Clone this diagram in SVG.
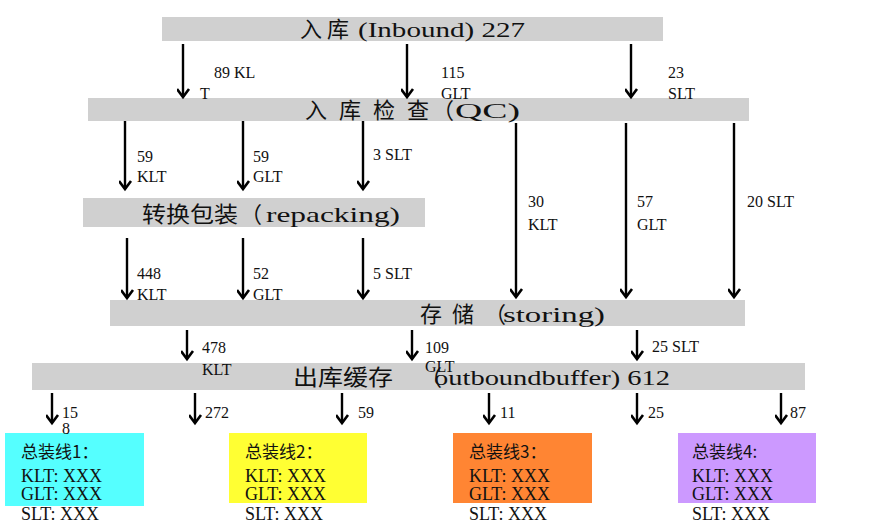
<svg xmlns="http://www.w3.org/2000/svg" width="869" height="530" viewBox="0 0 869 530">
<defs>
<marker id="ah" markerUnits="userSpaceOnUse" markerWidth="20" markerHeight="20" refX="0" refY="0" viewBox="-10 -14 20 20" orient="auto-start-reverse">
<path d="M-6,-8 L0,0 L6,-8" transform="rotate(-90)" fill="none" stroke="#000" stroke-width="2.6" stroke-linejoin="miter"/>
</marker>
<style>
.bar{fill:#d0d0d0}
.t{font-family:"Liberation Serif","Noto Sans CJK SC",serif;fill:#111}
.cjk{font-family:"Noto Sans CJK SC","Liberation Serif",sans-serif;fill:#111}
.big{font-size:22px}
.lab{font-family:"Liberation Serif",serif;font-size:16px;fill:#111}
.box{font-family:"Liberation Serif","Noto Sans CJK SC",serif;font-size:18px;fill:#111}
.boxc{font-family:"Noto Sans CJK SC",sans-serif;font-size:17px;fill:#111}
.c line{stroke:#000;stroke-width:2.4;marker-end:url(#ah)}
</style>
</defs>
<rect width="869" height="530" fill="#fff"/>

<g id="inbound">
<rect class="bar" x="162" y="17" width="501" height="24"/>
<text class="cjk big" x="300" y="37">入 库</text>
<text class="t big" x="358" y="37" textLength="167" lengthAdjust="spacingAndGlyphs">(Inbound) 227</text>
</g>

<g id="qc">
<rect class="bar" x="88" y="98" width="661" height="23"/>
<text class="cjk big" x="305" y="118" letter-spacing="12">入库检查</text>
<text class="cjk big" x="432" y="118">（</text>
<text class="t big" x="455" y="118" textLength="65" lengthAdjust="spacingAndGlyphs">QC)</text>
</g>

<g id="repacking">
<rect class="bar" x="83" y="198" width="342" height="29"/>
<text class="cjk big" x="142" y="222" textLength="96" lengthAdjust="spacingAndGlyphs">转换包装</text>
<text class="cjk big" x="240" y="222">（</text>
<text class="t big" x="266" y="222" textLength="134" lengthAdjust="spacingAndGlyphs">repacking)</text>
</g>

<g id="storing">
<rect class="bar" x="110" y="300" width="635" height="26"/>
<text class="cjk big" x="420" y="322" letter-spacing="10">存储</text>
<text class="cjk big" x="484" y="322">（</text>
<text class="t big" x="503" y="322" textLength="102" lengthAdjust="spacingAndGlyphs">storing)</text>
</g>

<g id="outbound">
<rect class="bar" x="32" y="363" width="773" height="27"/>
<text class="cjk big" x="293" y="385" textLength="100" lengthAdjust="spacingAndGlyphs">出库缓存</text>
<text class="cjk big" x="420" y="385">（</text>
<text class="t big" x="434" y="385" textLength="236" lengthAdjust="spacingAndGlyphs">outboundbuffer) 612</text>
</g>

<g id="line1">
<rect x="5" y="433" width="139" height="73" fill="#55ffff"/>
<text class="boxc" x="21" y="458">总装线1：</text>
<text class="box" x="21" y="482">KLT: XXX</text>
<text class="box" x="21" y="500">GLT: XXX</text>
<text class="box" x="21" y="520">SLT:  XXX</text>
</g>
<g id="line2">
<rect x="229" y="433" width="138" height="70" fill="#ffff33"/>
<text class="boxc" x="245" y="458">总装线2：</text>
<text class="box" x="245" y="482">KLT: XXX</text>
<text class="box" x="245" y="500">GLT: XXX</text>
<text class="box" x="245" y="520">SLT:  XXX</text>
</g>
<g id="line3">
<rect x="453" y="433" width="139" height="70" fill="#ff8533"/>
<text class="boxc" x="469" y="458">总装线3：</text>
<text class="box" x="469" y="482">KLT: XXX</text>
<text class="box" x="469" y="500">GLT: XXX</text>
<text class="box" x="469" y="520">SLT:  XXX</text>
</g>
<g id="line4">
<rect x="678" y="433" width="138" height="70" fill="#cc99ff"/>
<text class="boxc" x="692" y="458">总装线4:</text>
<text class="box" x="692" y="482">KLT: XXX</text>
<text class="box" x="692" y="500">GLT: XXX</text>
<text class="box" x="692" y="520">SLT:  XXX</text>
</g>

<g id="connectors" class="c">
<line x1="183" y1="44" x2="183" y2="97"/>
<line x1="407" y1="44" x2="407" y2="97"/>
<line x1="631" y1="44" x2="631" y2="97"/>
<line x1="125" y1="121" x2="125" y2="189"/>
<line x1="243" y1="121" x2="243" y2="189"/>
<line x1="363" y1="121" x2="363" y2="189"/>
<line x1="516" y1="123" x2="516" y2="297"/>
<line x1="626" y1="123" x2="626" y2="297"/>
<line x1="734" y1="123" x2="734" y2="297"/>
<line x1="127" y1="238" x2="127" y2="298"/>
<line x1="243" y1="238" x2="243" y2="298"/>
<line x1="363" y1="238" x2="363" y2="298"/>
<line x1="187" y1="330" x2="187" y2="359"/>
<line x1="412" y1="330" x2="412" y2="359"/>
<line x1="637" y1="330" x2="637" y2="359"/>
<line x1="52" y1="393" x2="52" y2="423"/>
<line x1="195" y1="393" x2="195" y2="423"/>
<line x1="342" y1="393" x2="342" y2="423"/>
<line x1="489" y1="393" x2="489" y2="423"/>
<line x1="637" y1="393" x2="637" y2="423"/>
<line x1="781" y1="393" x2="781" y2="423"/>
</g>

<g id="labels">
<text class="lab" x="214" y="78">89 KL</text>
<text class="lab" x="200" y="99">T</text>
<text class="lab" x="441" y="78">115</text>
<text class="lab" x="441" y="99">GLT</text>
<text class="lab" x="668" y="78">23</text>
<text class="lab" x="668" y="99">SLT</text>
<text class="lab" x="137" y="162">59</text>
<text class="lab" x="137" y="182">KLT</text>
<text class="lab" x="253" y="162">59</text>
<text class="lab" x="253" y="182">GLT</text>
<text class="lab" x="373" y="160">3 SLT</text>
<text class="lab" x="528" y="207">30</text>
<text class="lab" x="528" y="230">KLT</text>
<text class="lab" x="637" y="207">57</text>
<text class="lab" x="637" y="230">GLT</text>
<text class="lab" x="747" y="207">20 SLT</text>
<text class="lab" x="137" y="279">448</text>
<text class="lab" x="137" y="300">KLT</text>
<text class="lab" x="253" y="279">52</text>
<text class="lab" x="253" y="300">GLT</text>
<text class="lab" x="373" y="279">5 SLT</text>
<text class="lab" x="202" y="353">478</text>
<text class="lab" x="202" y="375">KLT</text>
<text class="lab" x="425" y="353">109</text>
<text class="lab" x="425" y="372">GLT</text>
<text class="lab" x="652" y="352">25 SLT</text>
<text class="lab" x="62" y="418">15</text>
<text class="lab" x="62" y="434" fill="#555">8</text>
<text class="lab" x="205" y="418">272</text>
<text class="lab" x="358" y="418">59</text>
<text class="lab" x="500" y="418">11</text>
<text class="lab" x="648" y="418">25</text>
<text class="lab" x="790" y="418">87</text>
</g>
</svg>
